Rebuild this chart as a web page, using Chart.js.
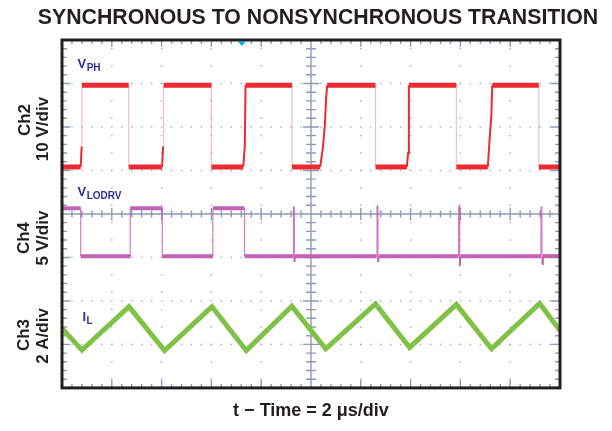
<!DOCTYPE html>
<html lang="en">
<head>
<meta charset="utf-8">
<title>Synchronous to nonsynchronous transition</title>
<script src="https://cdn.jsdelivr.net/npm/chart.js"></script>
<style>
  html, body { margin: 0; padding: 0; background: #fff; }
  canvas { display: block; }
</style>
</head>
<body>
<canvas id="scope" width="612" height="431"></canvas>
<script>
  // time in us (2 us/div, 10 div), levels in screen divisions (0 = bottom, 8 = top)
  const vphTime = [0, 0.75, 0.79, 0.80, 2.68, 2.68, 4.02, 4.06, 4.08, 6.00, 6.00, 7.28, 7.34, 7.37, 9.24, 9.24,
    10.37, 10.48, 10.55, 10.61, 10.65, 12.59, 12.59, 13.85, 13.90, 13.93, 15.84, 15.84,
    17.10, 17.17, 17.24, 17.28, 19.15, 19.15, 20];
  const vphDiv = [5.08, 5.08, 5.55, 6.96, 6.96, 5.08, 5.08, 5.55, 6.96, 6.96, 5.08, 5.08, 5.55, 6.96, 6.96, 5.08,
    5.08, 5.54, 6.00, 6.68, 6.96, 6.96, 5.08, 5.08, 5.40, 6.96, 6.96, 5.08,
    5.08, 5.69, 6.23, 6.96, 6.96, 5.08, 5.08];

  const lodrvTime = [0, 0.75, 0.75, 2.74, 2.74, 4.03, 4.03, 6.06, 6.06, 7.33, 7.33,
    9.29, 9.30, 9.32, 9.33, 9.36, 12.64, 12.65, 12.68, 12.69, 12.72,
    15.92, 15.93, 15.96, 15.97, 16.00, 19.23, 19.24, 19.27, 19.28, 19.31, 20];
  const lodrvDiv = [4.13, 4.13, 3.03, 3.03, 4.13, 4.13, 3.03, 3.03, 4.13, 4.13, 3.03,
    3.03, 4.16, 4.16, 2.90, 3.03, 3.03, 4.17, 4.17, 2.89, 3.03,
    3.03, 4.17, 4.17, 2.80, 3.03, 3.03, 4.17, 4.17, 2.85, 3.03, 3.03];

  const ilTime = [0, 0.80, 2.69, 4.12, 6.02, 7.40, 9.23, 10.59, 12.59, 13.96, 15.84, 17.25, 19.18, 20];
  const ilDiv = [1.37, 0.87, 1.87, 0.86, 1.87, 0.86, 1.88, 0.90, 1.93, 0.93, 1.92, 0.90, 1.94, 1.32];

  const gridColor = '#8b9ab8';

  // steep edges are drawn thin, like the scope's faint transitions
  function trace(times, levels, color, edgeColor, width) {
    const dx = c => Math.abs(c.p1.x - c.p0.x);
    const steep = c => Math.abs(c.p1.y - c.p0.y) > 4 && Math.abs(c.p1.y - c.p0.y) > 3 * dx(c);
    return {
      data: times.map((t, i) => ({ x: t, y: levels[i] })),
      borderColor: color,
      borderWidth: width,
      pointRadius: 0,
      tension: 0,
      segment: {
        borderWidth: c => steep(c) ? (dx(c) < 0.6 ? 1.2 : 2) : width,
        borderColor: c => steep(c) && dx(c) < 0.6 ? edgeColor : color
      }
    };
  }

  function label(ctx, main, sub, x, y) {
    ctx.font = 'bold 13px "Liberation Sans", Arial, sans-serif';
    ctx.fillText(main, x, y);
    const w = ctx.measureText(main).width;
    ctx.font = 'bold 10px "Liberation Sans", Arial, sans-serif';
    ctx.fillText(sub, x + w + 0.5, y + 3);
  }

  function sideText(ctx, text, x, y) {
    ctx.save();
    ctx.translate(x, y);
    ctx.rotate(-Math.PI / 2);
    ctx.fillText(text, 0, 0);
    ctx.restore();
  }

  const graticule = {
    id: 'graticule',
    beforeDatasetsDraw(chart) {
      const { ctx, chartArea: a, scales: { x, y } } = chart;
      ctx.save();
      ctx.fillStyle = '#9ea9c2';
      for (let i = 1; i < 10; i++) {
        if (i === 5) continue;
        const px = x.getPixelForValue(i * 2);
        for (let v = 0.2; v < 8; v += 0.4) ctx.fillRect(px - 0.7, y.getPixelForValue(v) - 0.7, 1.4, 1.4);
      }
      for (let j = 1; j < 8; j++) {
        if (j === 4) continue;
        const py = y.getPixelForValue(j);
        for (let k = 1; k < 50; k++) ctx.fillRect(x.getPixelForValue(k * 0.4) - 0.7, py - 0.7, 1.4, 1.4);
      }

      ctx.strokeStyle = gridColor;
      ctx.lineWidth = 1.4;
      const cx = x.getPixelForValue(10);
      const cy = y.getPixelForValue(4);
      ctx.beginPath();
      ctx.moveTo(a.left, cy); ctx.lineTo(a.right, cy);
      ctx.moveTo(cx, a.top); ctx.lineTo(cx, a.bottom);
      // minor ticks, 5 per division
      for (let k = 1; k < 50; k++) {
        const px = x.getPixelForValue(k * 0.4);
        const major = k % 5 === 0;
        const h = major ? 6 : 3.5;
        ctx.moveTo(px, cy - h); ctx.lineTo(px, cy + h);
        ctx.moveTo(px, a.top); ctx.lineTo(px, a.top + (major ? 7 : 4));
        ctx.moveTo(px, a.bottom); ctx.lineTo(px, a.bottom - (major ? 8 : 4));
      }
      for (let k = 1; k < 40; k++) {
        const py = y.getPixelForValue(k * 0.2);
        const major = k % 5 === 0;
        const w = major ? 8 : 5;
        ctx.moveTo(cx - w, py); ctx.lineTo(cx + w, py);
        ctx.moveTo(a.left, py); ctx.lineTo(a.left + (major ? 8 : 5), py);
        ctx.moveTo(a.right, py); ctx.lineTo(a.right - (major ? 9 : 5), py);
      }
      ctx.stroke();
      ctx.restore();
    },
    afterDraw(chart) {
      const { ctx, chartArea: a, scales: { x } } = chart;
      ctx.save();
      ctx.strokeStyle = '#231f20';
      ctx.lineWidth = 3;
      ctx.strokeRect(a.left, a.top, a.right - a.left, a.bottom - a.top);

      // trigger position marker
      const tx = x.getPixelForValue(7.22);
      ctx.fillStyle = '#1ba3dc';
      ctx.beginPath();
      ctx.moveTo(tx - 4.5, a.top + 1); ctx.lineTo(tx + 4.5, a.top + 1); ctx.lineTo(tx, a.top + 6);
      ctx.closePath();
      ctx.fill();

      ctx.fillStyle = '#231f20';
      ctx.textAlign = 'center';
      ctx.textBaseline = 'middle';
      ctx.font = 'bold 21.3px "Liberation Sans", Arial, sans-serif';
      ctx.fillText('SYNCHRONOUS TO NONSYNCHRONOUS TRANSITION', 318, 18);

      ctx.font = 'bold 17px "Liberation Sans", Arial, sans-serif';
      sideText(ctx, 'Ch2', 25, 120);
      sideText(ctx, '10 V/div', 43.5, 129);
      sideText(ctx, 'Ch4', 24, 238);
      sideText(ctx, '5 V/div', 43.5, 238);
      sideText(ctx, 'Ch3', 24, 335);
      sideText(ctx, '2 A/div', 43.5, 336);

      ctx.fillStyle = '#2e3192';
      ctx.textAlign = 'left';
      ctx.textBaseline = 'alphabetic';
      label(ctx, 'V', 'PH', 77.5, 67.5);
      label(ctx, 'V', 'LODRV', 77.5, 196);
      label(ctx, 'I', 'L', 82.5, 320.5);
      ctx.restore();
    }
  };

  new Chart(document.getElementById('scope'), {
    type: 'line',
    data: {
      datasets: [
        trace(vphTime, vphDiv, '#ec2a31', 'rgba(236, 70, 80, 0.35)', 5),
        trace(lodrvTime, lodrvDiv, '#c262b2', 'rgba(196, 80, 176, 0.75)', 4),
        trace(ilTime, ilDiv, '#7fc245', '#7fc245', 5)
      ]
    },
    options: {
      responsive: false,
      animation: false,
      layout: { padding: { top: 40, left: 62, right: 52, bottom: 0 } },
      plugins: { legend: { display: false }, tooltip: { enabled: false } },
      scales: {
        x: {
          type: 'linear', min: 0, max: 20,
          ticks: { display: false },
          grid: { display: false, drawTicks: false },
          border: { display: false },
          title: {
            display: true,
            text: 't \u2212 Time = 2 \u03bcs/div',
            color: '#231f20',
            font: { family: '"Liberation Sans", Arial, sans-serif', size: 18, weight: 'bold' },
            padding: { top: 12, bottom: 9.5 }
          }
        },
        y: {
          display: false, min: 0, max: 8
        }
      }
    },
    plugins: [graticule]
  });
</script>
</body>
</html>
